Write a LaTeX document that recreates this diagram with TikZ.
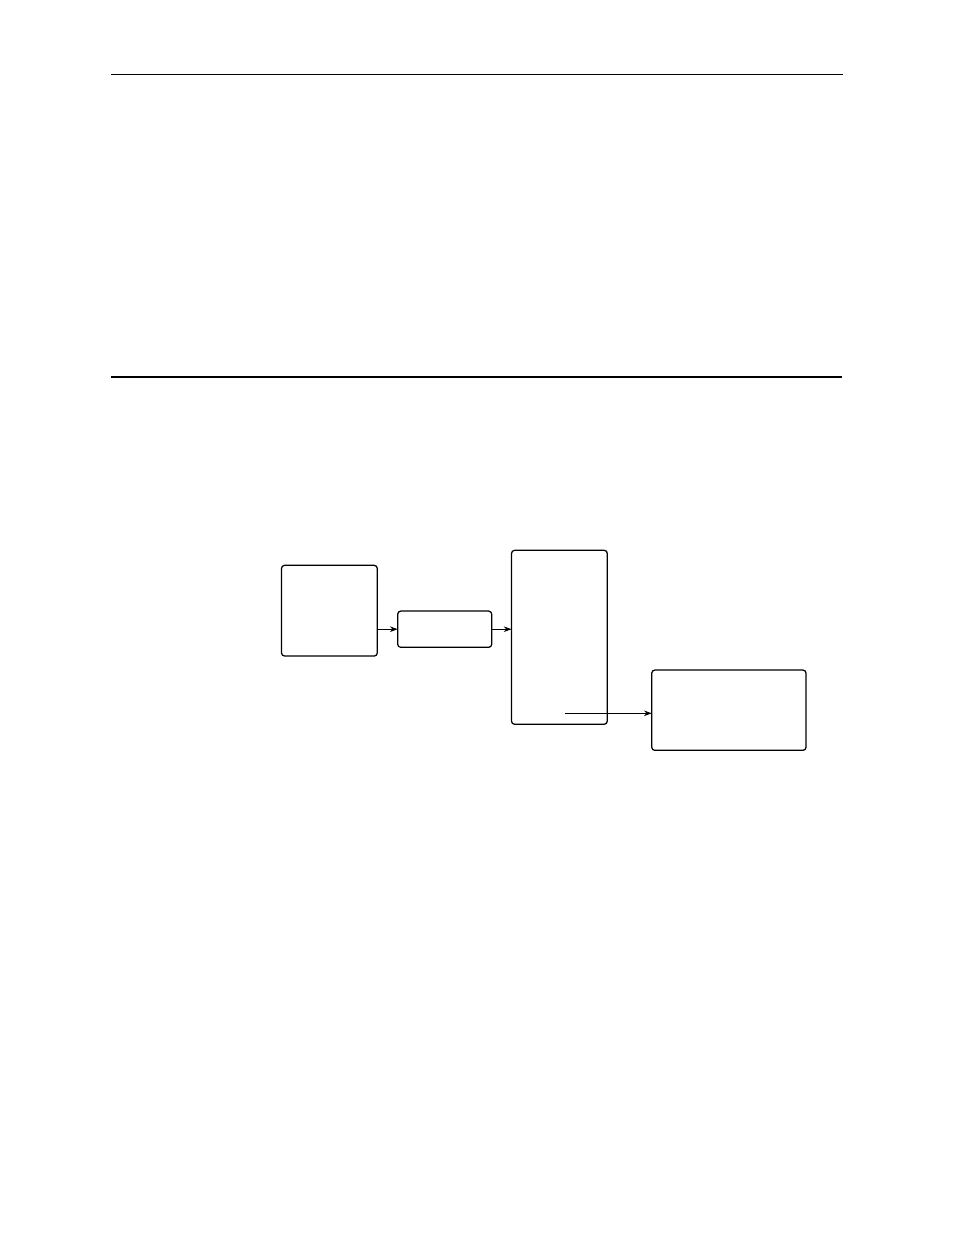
\documentclass[tikz,border=0pt]{standalone}
\usetikzlibrary{arrows.meta}
\begin{document}
\begin{tikzpicture}[x=0.6415pt,y=-0.6415pt,
  boxnode/.style={draw,rounded corners=2pt,line width=0.8pt,inner sep=0pt,outer sep=0pt},
  arr/.style={-{Stealth[length=5pt,width=3.6pt]},line width=0.5pt},
  thinrule/.style={line width=0.65pt},
  thickrule/.style={line width=1.3pt}]
\useasboundingbox (0,0) rectangle (954,1235);
\coordinate (r1l) at (111,74.3);
\coordinate (r1r) at (842.5,74.3);
\coordinate (r2l) at (111,376.8);
\coordinate (r2r) at (842,376.8);
\draw[thinrule] (r1l) -- (r1r);
\draw[thickrule] (r2l) -- (r2r);
\node[boxnode,minimum width=61.45pt,minimum height=58.2pt] (a) at (329.4,610.7) {};
\node[boxnode,minimum width=60.3pt,minimum height=23.3pt] (b) at (444.7,629.2) {};
\node[boxnode,minimum width=61.45pt,minimum height=111.6pt] (c) at (559.4,637.3) {};
\node[boxnode,minimum width=99pt,minimum height=51.5pt] (d) at (728.9,710.2) {};
\coordinate (s) at (565,713.3);
\draw[arr] (a.east |- b.west) -- (b.west);
\draw[arr] (b.east) -- (b.east -| c.west);
\draw[arr] (s) -- (s -| d.west);
\end{tikzpicture}
\end{document}
